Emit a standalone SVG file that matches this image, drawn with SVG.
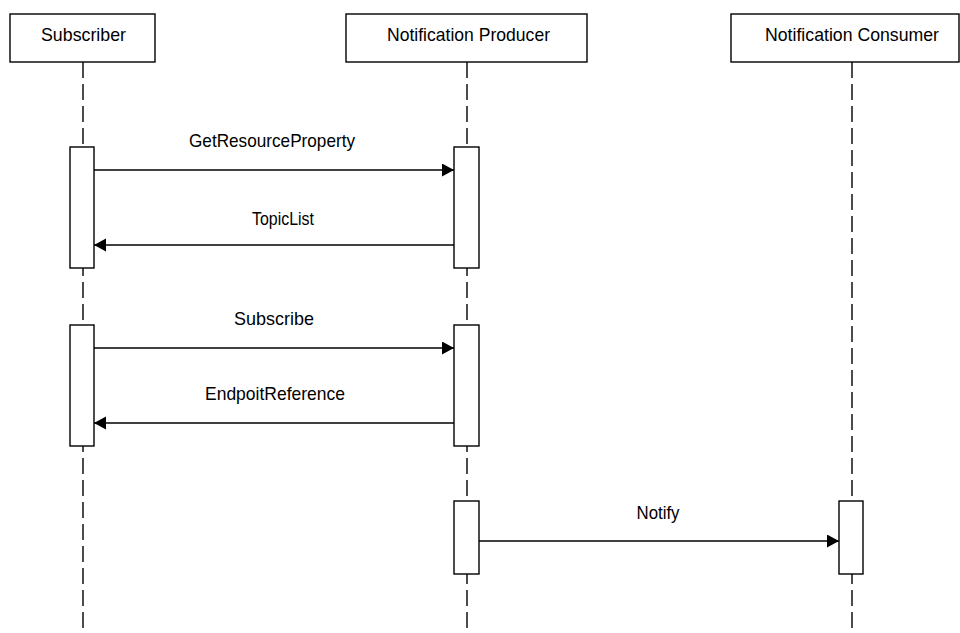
<svg xmlns="http://www.w3.org/2000/svg" width="960" height="633" viewBox="0 0 960 633">
<defs>
<marker id="ah" markerUnits="userSpaceOnUse" markerWidth="14" markerHeight="14" refX="12" refY="6.5" orient="auto">
<path d="M0,0 L12,6.5 L0,13 Z" fill="#000"/>
</marker>
<style>
.box{fill:#fff;stroke:#000;stroke-width:1.4}
.life{stroke:#000;stroke-width:1.4;stroke-dasharray:16 6;fill:none}
.act{fill:#fff;stroke:#000;stroke-width:1.4}
.msg{stroke:#000;stroke-width:1.4;fill:none;marker-end:url(#ah)}
text{font-family:"Liberation Sans",Arial,sans-serif;font-size:19px;fill:#000;text-anchor:middle}
</style>
</defs>
<rect width="960" height="633" fill="#fff"/>
<g id="lifelines">
<line class="life" x1="83" y1="62" x2="83" y2="633"/>
<line class="life" x1="467" y1="62" x2="467" y2="633"/>
<line class="life" x1="852" y1="62" x2="852" y2="633"/>
</g>
<g id="subscriber">
<rect class="box" x="10" y="14" width="145" height="48"/>
<text x="83.5" y="41" textLength="85" lengthAdjust="spacingAndGlyphs">Subscriber</text>
<rect class="act" x="70" y="147" width="24" height="121"/>
<rect class="act" x="70" y="325" width="24" height="121"/>
</g>
<g id="producer">
<rect class="box" x="346" y="14" width="241" height="48"/>
<text x="468.5" y="41" textLength="163" lengthAdjust="spacingAndGlyphs">Notification Producer</text>
<rect class="act" x="454" y="147" width="25" height="121"/>
<rect class="act" x="454" y="325" width="25" height="121"/>
<rect class="act" x="454" y="501" width="25" height="73"/>
</g>
<g id="consumer">
<rect class="box" x="731" y="14" width="228" height="48"/>
<text x="852" y="41" textLength="174" lengthAdjust="spacingAndGlyphs">Notification Consumer</text>
<rect class="act" x="839" y="501" width="24" height="73"/>
</g>
<g id="connectors">
<line class="msg" x1="94" y1="170" x2="454" y2="170"/>
<text x="272" y="147" textLength="166" lengthAdjust="spacingAndGlyphs">GetResourceProperty</text>
<line class="msg" x1="454" y1="245" x2="94" y2="245"/>
<text x="283" y="225" textLength="62" lengthAdjust="spacingAndGlyphs">TopicList</text>
<line class="msg" x1="94" y1="348" x2="454" y2="348"/>
<text x="274" y="325" textLength="80" lengthAdjust="spacingAndGlyphs">Subscribe</text>
<line class="msg" x1="454" y1="423" x2="94" y2="423"/>
<text x="275" y="400" textLength="140" lengthAdjust="spacingAndGlyphs">EndpoitReference</text>
<line class="msg" x1="479" y1="541" x2="839" y2="541"/>
<text x="658" y="519" textLength="43" lengthAdjust="spacingAndGlyphs">Notify</text>
</g>
</svg>
